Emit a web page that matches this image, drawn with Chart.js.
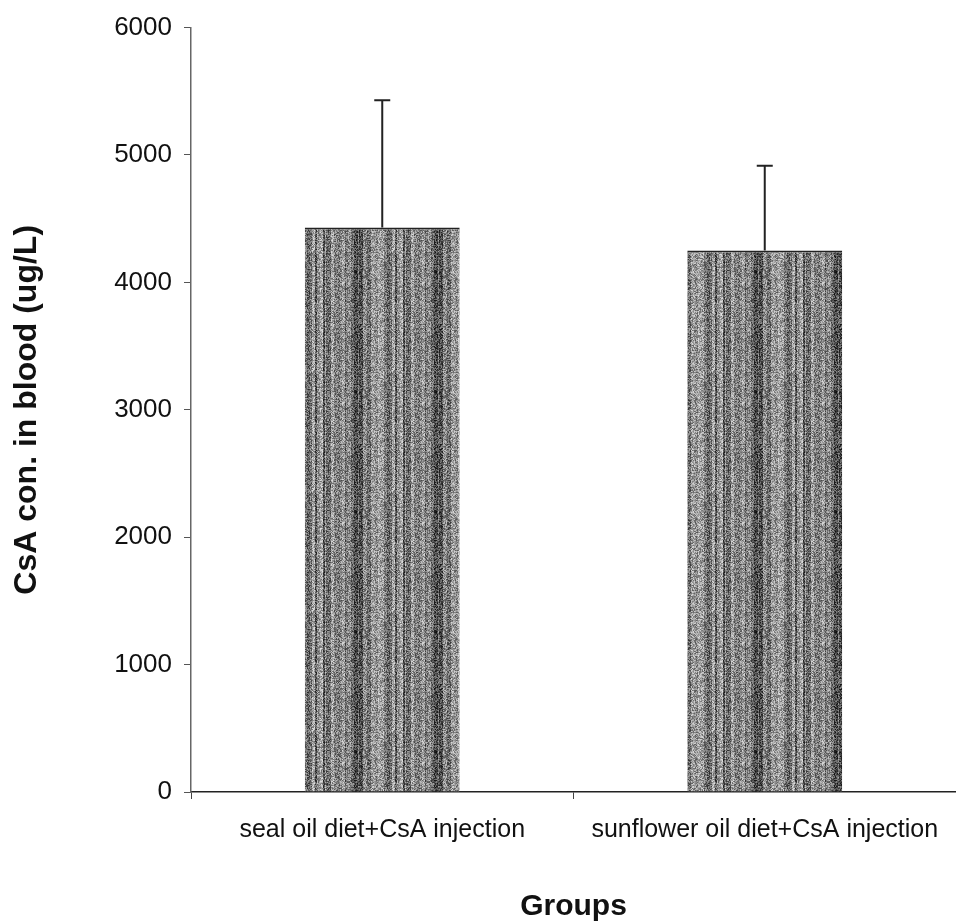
<!DOCTYPE html>
<html>
<head>
<meta charset="utf-8">
<script src="https://cdn.jsdelivr.net/npm/chart.js@4"></script>
<style>
  html, body { margin: 0; padding: 0; background: #fff; }
  #wrap { width: 956px; height: 923px; position: relative; }
</style>
</head>
<body>
<div id="wrap"><canvas id="myChart" width="956" height="923"></canvas></div>
<script>
// data
const groups = ["seal oil diet+CsA injection", "sunflower oil diet+CsA injection"];
const means = [4430, 4250];
const errors = [1000, 665];
const yTicks = [0, 1000, 2000, 3000, 4000, 5000, 6000];

// grainy grey fill like the scanned bars (deterministic streaks)
function makeTexture() {
  const c = document.createElement("canvas");
  c.width = 80;
  c.height = 120;
  const g = c.getContext("2d");
  let seed = 11;
  const next = () => {
    seed = (seed * 9301 + 49297) % 233280;
    return seed / 233280;
  };
  // wide-ish vertical streaks
  const cols = [];
  let x = 0;
  while (x < c.width) {
    const w = 1 + Math.floor(next() * 4);
    const base = 70 + Math.floor(next() * 110);
    for (let k = 0; k < w && x < c.width; k++, x++) cols.push(base);
  }
  for (let x = 0; x < c.width; x++) {
    for (let y = 0; y < c.height; y++) {
      const v = Math.max(15, Math.min(230, cols[x] + Math.floor((next() - 0.5) * 120)));
      g.fillStyle = "rgb(" + v + "," + v + "," + v + ")";
      g.fillRect(x, y, 1, 1);
    }
  }
  return g.createPattern(c, "repeat");
}

// error bars (upper half only)
const errorBars = {
  id: "errorBars",
  afterDatasetsDraw(chart) {
    const ctx = chart.ctx;
    const meta = chart.getDatasetMeta(0);
    const y = chart.scales.y;
    ctx.save();
    ctx.strokeStyle = "#222";
    ctx.lineWidth = 2;
    meta.data.forEach((bar, i) => {
      const top = y.getPixelForValue(means[i] + errors[i]);
      const base = y.getPixelForValue(means[i]);
      ctx.beginPath();
      ctx.moveTo(bar.x, base);
      ctx.lineTo(bar.x, top);
      ctx.moveTo(bar.x - 8, top);
      ctx.lineTo(bar.x + 8, top);
      ctx.stroke();
    });
    ctx.restore();
  },
};

const ctx = document.getElementById("myChart");

const chart = new Chart(ctx, {
  type: "bar",
  data: {
    labels: groups,
    datasets: [
      {
        data: means,
        backgroundColor: makeTexture(),
        borderColor: "#222",
        borderWidth: { top: 2, left: 0, right: 0, bottom: 0 },
        barPercentage: 0.5,
        categoryPercentage: 0.81,
      },
    ],
  },
  options: {
    responsive: false,
    animation: false,
    layout: { padding: { top: 12, right: 0, bottom: 0, left: 0 } },
    plugins: { legend: { display: false }, tooltip: { enabled: false } },
    scales: {
      x: {
        grid: { drawOnChartArea: false, offset: true, tickLength: 7, color: "#444" },
        border: { color: "#222", width: 1.5 },
        ticks: { color: "#111", font: { family: "Arial, 'Liberation Sans'", size: 25 }, padding: 16 },
        title: {
          display: true,
          text: "Groups",
          color: "#111",
          font: { family: "Arial, 'Liberation Sans'", size: 30, weight: "bold" },
          padding: { top: 0, bottom: -2 },
        },
        afterFit(scale) {
          scale.height = 131;
        },
      },
      y: {
        min: 0,
        max: 6000,
        afterBuildTicks(scale) {
          scale.ticks = yTicks.map((v) => ({ value: v }));
        },
        grid: { drawOnChartArea: false, tickLength: 7, color: "#555" },
        border: { color: "#666", width: 1.5 },
        ticks: {
          color: "#111",
          font: { family: "Arial, 'Liberation Sans'", size: 26 },
          padding: 12,
          callback: (v) => String(v),
        },
        title: {
          display: true,
          text: "CsA con. in blood (ug/L)",
          color: "#111",
          font: { family: "Arial, 'Liberation Sans'", size: 32, weight: "bold" },
          padding: { top: 8, bottom: 0 },
        },
        afterFit(scale) {
          scale.width = 191;
        },
      },
    },
  },
  plugins: [errorBars],
});
</script>
</body>
</html>
